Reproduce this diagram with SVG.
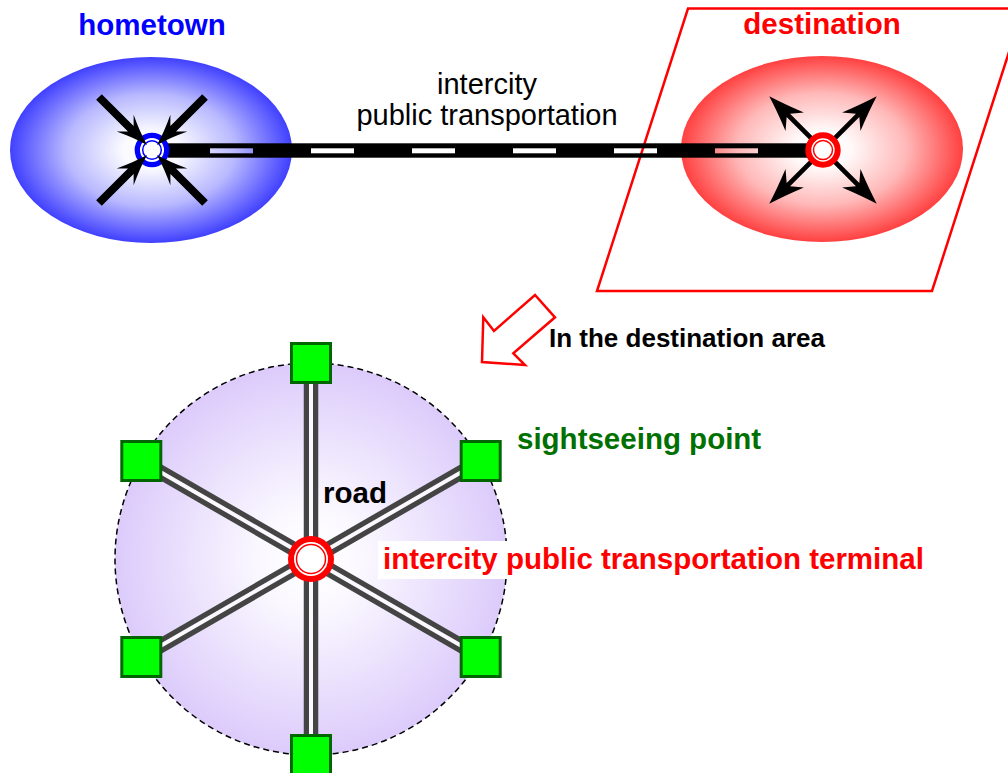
<svg xmlns="http://www.w3.org/2000/svg" width="1008" height="773" viewBox="0 0 1008 773">
<style>
text{font-family:"Liberation Sans",Arial,sans-serif}
.b{font-weight:bold;font-size:29.5px}
.road{fill:none;stroke:#444;stroke-width:14.5}
.gap{fill:none;stroke:#fbf9ff;stroke-width:4}
.sq{fill:#00ff00;stroke:#006600;stroke-width:3}
</style>
<defs>
<radialGradient id="gBlue" cx="50%" cy="50%" r="50%">
<stop offset="0" stop-color="#fff"/><stop offset="0.2" stop-color="#fafaff"/><stop offset="0.6" stop-color="#b8b8ff"/><stop offset="1" stop-color="#4040ff"/>
</radialGradient>
<radialGradient id="gRed" cx="50%" cy="50%" r="50%">
<stop offset="0" stop-color="#fff"/><stop offset="0.2" stop-color="#fffafa"/><stop offset="0.6" stop-color="#ffb8b8"/><stop offset="1" stop-color="#ff4040"/>
</radialGradient>
<radialGradient id="gPurple" cx="50%" cy="50%" r="50%">
<stop offset="0" stop-color="#fff"/><stop offset="0.25" stop-color="#fbf9ff"/><stop offset="1" stop-color="#dccbfb"/>
</radialGradient>
<path id="inArrow" d="M0,0 Q-14,-4 -31,-12 L-23,-4 L-68,-4 L-68,4 L-23,4 L-31,12 Q-14,4 0,0 Z" fill="#000"/>
<path id="outArrow" d="M0,0 Q-16,-5 -36,-13 L-27,-2.4 L-62,-2.4 L-62,2.4 L-27,2.4 L-36,13 Q-16,5 0,0 Z" fill="#000"/>
<mask id="dashMask">
<rect x="160" y="130" width="660" height="40" fill="#fff"/>
<g fill="#000">
<rect x="210" y="148.3" width="43" height="5"/>
<rect x="311" y="148.3" width="43" height="5"/>
<rect x="412" y="148.3" width="43" height="5"/>
<rect x="513" y="148.3" width="43" height="5"/>
<rect x="614" y="148.3" width="43" height="5"/>
<rect x="715" y="148.3" width="43" height="5"/>
</g>
</mask>
</defs>
<rect width="1008" height="773" fill="#fff"/>

<g id="hometown">
<ellipse cx="151" cy="150" rx="141" ry="93" fill="url(#gBlue)"/>
<text class="b" x="152" y="35" text-anchor="middle" fill="#0000ff">hometown</text>
</g>

<g id="destination">
<polygon points="688,8.5 1023,8.5 932,291 597,291" fill="none" stroke="#ff0000" stroke-width="2.5"/>
<ellipse cx="822" cy="149" rx="141" ry="93" fill="url(#gRed)"/>
<text class="b" x="822" y="34" text-anchor="middle" fill="#ff0000">destination</text>
</g>

<g id="connectors">
<rect x="168" y="143.3" width="640" height="14.4" fill="#000" mask="url(#dashMask)"/>
<g id="dest-arrows">
<use href="#outArrow" transform="translate(823,150) rotate(-135) translate(76,0)"/>
<use href="#outArrow" transform="translate(823,150) rotate(-45) translate(76,0)"/>
<use href="#outArrow" transform="translate(823,150) rotate(135) translate(76,0)"/>
<use href="#outArrow" transform="translate(823,150) rotate(45) translate(76,0)"/>
</g>
</g>

<g id="hometown-hub">
<circle cx="152" cy="150" r="14.7" fill="#fff" stroke="#0000ff" stroke-width="5.3"/>
<circle cx="152" cy="150" r="9.3" fill="#fff" stroke="#0000ff" stroke-width="1.5"/>
<use href="#inArrow" transform="translate(152,150) rotate(45) translate(-7,0)"/>
<use href="#inArrow" transform="translate(152,150) rotate(135) translate(-7,0)"/>
<use href="#inArrow" transform="translate(152,150) rotate(-45) translate(-7,0)"/>
<use href="#inArrow" transform="translate(152,150) rotate(-135) translate(-7,0)"/>
</g>

<g id="destination-hub">
<circle cx="823" cy="150" r="14.7" fill="#fff" stroke="#ff0000" stroke-width="6"/>
<circle cx="823" cy="150" r="9.5" fill="#fff" stroke="#ff0000" stroke-width="1.5"/>
</g>

<g id="intercity-label">
<text x="487" y="94" text-anchor="middle" font-size="29">intercity</text>
<text x="487" y="125" text-anchor="middle" font-size="29">public transportation</text>
</g>

<g id="area-arrow">
<polygon points="482,362 483.3,317.3 494,331 535,295 555,317.3 513.3,353.3 525,365" fill="#fff" stroke="#ff0000" stroke-width="2.5" stroke-linejoin="miter"/>
<text class="b" x="549" y="347" style="font-size:26px">In the destination area</text>
</g>

<g id="area">
<circle cx="311" cy="559" r="196" fill="url(#gPurple)" stroke="#000" stroke-width="1.5" stroke-dasharray="6 4"/>
</g>

<g id="roads">
<path class="road" d="M311,559 L311,363 M311,559 L480.7,461 M311,559 L480.7,657 M311,559 L311,755 M311,559 L141.3,657 M311,559 L141.3,461"/>
<path class="gap" d="M311,559 L311,363 M311,559 L480.7,461 M311,559 L480.7,657 M311,559 L311,755 M311,559 L141.3,657 M311,559 L141.3,461"/>
</g>

<g id="terminal">
<circle cx="311" cy="559" r="20" fill="#fff" stroke="#ff0000" stroke-width="6"/>
<circle cx="311" cy="559" r="14.5" fill="#fff" stroke="#ff0000" stroke-width="1.5"/>
</g>

<g id="sightseeing-points">
<rect class="sq" x="291.5" y="343.5" width="39" height="39"/>
<rect class="sq" x="461.2" y="441.5" width="39" height="39"/>
<rect class="sq" x="461.2" y="637.5" width="39" height="39"/>
<rect class="sq" x="291.5" y="735.5" width="39" height="39"/>
<rect class="sq" x="121.8" y="637.5" width="39" height="39"/>
<rect class="sq" x="121.8" y="441.5" width="39" height="39"/>
</g>

<g id="labels">
<text class="b" x="517" y="449" fill="#007000">sightseeing point</text>
<text class="b" x="323" y="503" fill="#000">road</text>
<rect x="378" y="541" width="554" height="38" fill="#fff"/>
<text class="b" x="383" y="569" fill="#ff0000">intercity public transportation terminal</text>
</g>
</svg>
